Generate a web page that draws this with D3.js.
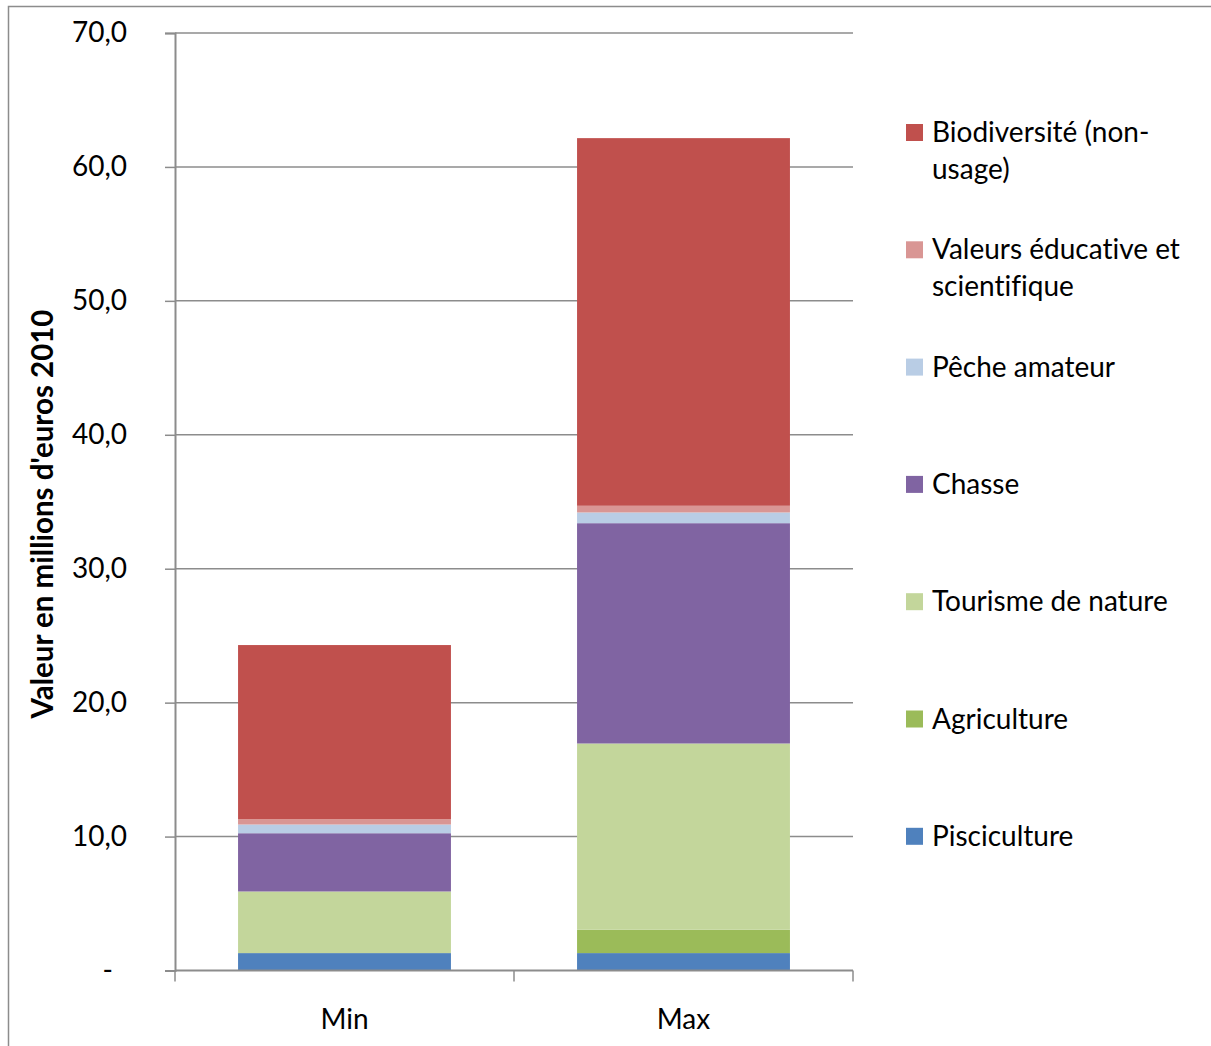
<!DOCTYPE html>
<html>
<head>
<meta charset="utf-8">
<script src="https://cdn.jsdelivr.net/npm/d3@7"></script>
<style>
  html, body { margin: 0; padding: 0; background: #fff; }
  svg { display: block; font-family: Lato, "Open Sans", sans-serif; font-variant-ligatures: none; }
</style>
</head>
<body>
<svg id="chart" width="1211" height="1046"></svg>
<script>
// Scenarios on the x axis
const categories = ["Min", "Max"];

// Stacked series, bottom to top (millions d'euros 2010)
const seriesNames = [
  "Pisciculture",
  "Agriculture",
  "Tourisme de nature",
  "Chasse",
  "Pêche amateur",
  "Valeurs éducative et scientifique",
  "Biodiversité (non-usage)"
];
const minValues = [1.3, 0.0, 4.6, 4.35, 0.65, 0.4, 13.0];
const maxValues = [1.3, 1.75, 13.9, 16.45, 0.8, 0.5, 27.45];
const seriesColors = ["#4F81BD", "#9BBB59", "#C3D69B", "#8064A2", "#B9CDE5", "#D99694", "#C0504D"];

// Legend labels as wrapped lines, same order as the series
const legendLines = [
  ["Pisciculture"],
  ["Agriculture"],
  ["Tourisme de nature"],
  ["Chasse"],
  ["Pêche amateur"],
  ["Valeurs éducative et", "scientifique"],
  ["Biodiversité (non-", "usage)"]
];

const yTicks = [0, 10, 20, 30, 40, 50, 60, 70];
const yTitle = "Valeur en millions d'euros 2010";

// Build rows for d3.stack
const rows = categories.map((c, i) => {
  const src = i === 0 ? minValues : maxValues;
  const r = { cat: c };
  seriesNames.forEach((s, j) => { r[s] = src[j]; });
  return r;
});
const stacked = d3.stack().keys(seriesNames)(rows);

const svg = d3.select("#chart");

// Outer chart frame
svg.append("rect")
  .attr("x", 8.5).attr("y", 6.5)
  .attr("width", 1260).attr("height", 1100)
  .attr("fill", "none").attr("stroke", "#8c8c8c").attr("stroke-width", 1.5);

const plot = { left: 175, right: 853, top: 33, bottom: 970.5 };

const y = d3.scaleLinear().domain([0, 70]).range([plot.bottom, plot.top]);
const x = d3.scaleBand().domain(categories)
  .range([plot.left, plot.right])
  .paddingInner(0.372).paddingOuter(0.186);

const fr = d3.formatLocale({ decimal: ",", thousands: " ", grouping: [3], currency: ["", " €"] });
const fmt = fr.format(".1f");

// Horizontal gridlines
svg.append("g")
  .selectAll("line")
  .data(yTicks.filter(t => t > 0))
  .join("line")
  .attr("x1", plot.left).attr("x2", plot.right)
  .attr("y1", d => y(d)).attr("y2", d => y(d))
  .attr("stroke", "#8c8c8c").attr("stroke-width", 1.5);

// Bars
svg.append("g")
  .selectAll("g")
  .data(stacked)
  .join("g")
  .attr("fill", (d, i) => seriesColors[i])
  .selectAll("rect")
  .data(d => d)
  .join("rect")
  .attr("x", d => x(d.data.cat))
  .attr("width", x.bandwidth())
  .attr("y", d => y(d[1]))
  .attr("height", d => Math.max(0, y(d[0]) - y(d[1])));

// Y axis
const yAxis = d3.axisLeft(y)
  .tickValues(yTicks)
  .tickSize(10)
  .tickPadding(38)
  .tickFormat(d => d === 0 ? "-" : fmt(d));
const gy = svg.append("g")
  .attr("transform", `translate(${plot.left},0)`)
  .call(yAxis);
gy.select(".domain").attr("stroke", "#8c8c8c").attr("stroke-width", 2);
gy.selectAll(".tick line").attr("stroke", "#8c8c8c").attr("stroke-width", 1.5);
gy.selectAll(".tick text")
  .attr("font-size", 28).attr("fill", "#000")
  .attr("font-family", "Lato, sans-serif")
  .attr("dx", d => d === 0 ? -14 : 0);

// X axis with boundary ticks between categories
const gx = svg.append("g")
  .attr("transform", `translate(0,${plot.bottom})`);
gx.append("line")
  .attr("x1", plot.left).attr("x2", plot.right)
  .attr("stroke", "#8c8c8c").attr("stroke-width", 2);
const boundaries = [plot.left, x(categories[1]) - x.step() * x.paddingInner() / 2, plot.right];
gx.selectAll("line.b")
  .data(boundaries)
  .join("line")
  .attr("class", "b")
  .attr("x1", d => d).attr("x2", d => d)
  .attr("y1", 0).attr("y2", 11)
  .attr("stroke", "#8c8c8c").attr("stroke-width", 1.5);
gx.selectAll("text")
  .data(categories)
  .join("text")
  .attr("x", d => x(d) + x.bandwidth() / 2)
  .attr("y", 58)
  .attr("text-anchor", "middle")
  .attr("font-size", 28)
  .text(d => d);

// Y axis title
svg.append("text")
  .attr("transform", `translate(53,514) rotate(-90)`)
  .attr("text-anchor", "middle")
  .attr("font-size", 29.5)
  .attr("font-weight", "bold")
  .text(yTitle);

// Legend, top entry is the top of the stack
const legendTop = 124, legendStep = 117.3;
const legend = svg.append("g");
const items = legend.selectAll("g")
  .data(seriesNames.map((s, i) => ({ s, i })).reverse())
  .join("g")
  .attr("transform", (d, k) => `translate(906,${legendTop + k * legendStep})`);
items.append("rect")
  .attr("width", 17).attr("height", 17)
  .attr("fill", d => seriesColors[d.i]);
items.append("text")
  .attr("font-size", 28)
  .selectAll("tspan")
  .data(d => legendLines[d.i])
  .join("tspan")
  .attr("x", 26)
  .attr("y", (d, k) => 18 + k * 37)
  .text(d => d);
</script>
</body>
</html>
